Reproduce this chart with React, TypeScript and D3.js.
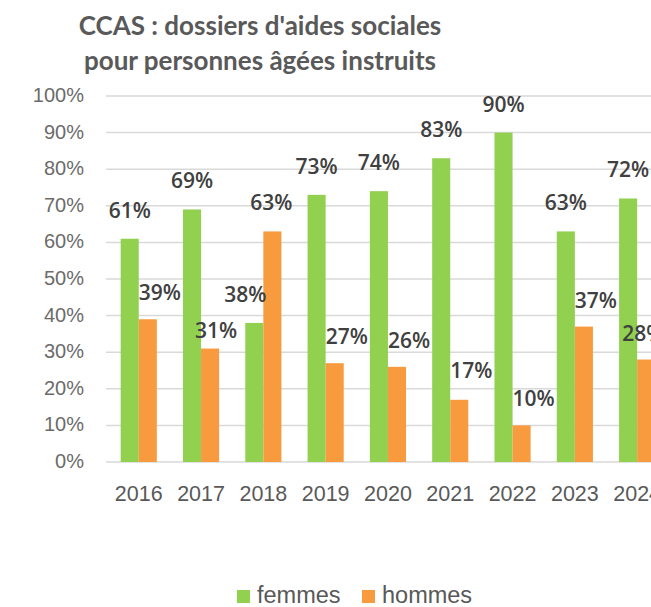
import React from "react";
import * as d3 from "d3";

// Share of social-aid files processed for elderly people, by sex
const years = ["2016", "2017", "2018", "2019", "2020", "2021", "2022", "2023", "2024"];
const femmes = [61, 69, 38, 73, 74, 83, 90, 63, 72];
const hommes = [39, 31, 63, 27, 26, 17, 10, 37, 28];
const yTicks = [0, 10, 20, 30, 40, 50, 60, 70, 80, 90, 100];
const seriesNames = ["femmes", "hommes"];
const seriesColors = ["#92D050", "#F79B3E"];

// Hand-placed label nudges (dx, dy in px) where labels would collide
const femmesNudge: [number, number][] = [[0, 0], [0, 0], [-9, 0], [0, 0], [0, 0], [0, 0], [0, 0], [0, 0], [0, 0]];
const hommesNudge: [number, number][] = [[0, 0], [-6, 8], [-13, -2], [0, 0], [0, 0], [0, -3], [0, 0], [0, 0], [-15, 0]];

const W = 651;
const H = 607;

export default function App() {
  const y = d3.scaleLinear().domain([0, 100]).range([462, 96]);
  const x = d3
    .scaleBand<string>()
    .domain(years)
    .range([107.6, 107.6 + 9 * 62.3])
    .paddingInner(0.42)
    .paddingOuter(0.21);
  const xs = d3.scaleBand<string>().domain(seriesNames).range([0, x.bandwidth()]);
  const gridLeft = 106;
  const labelFont = "'Liberation Sans', Arial, sans-serif";

  return (
    <svg
      width={W}
      height={H}
      style={{ position: "absolute", left: 0, top: 0, background: "#fff" }}
      fontFamily={labelFont}
    >
      <rect width={W} height={H} fill="#fff" />
      {/* Title */}
      <g fill="#595959" fontFamily="Lato, 'Open Sans', sans-serif" fontWeight={700} fontSize={26} textAnchor="middle">
        <text x={260} y={35}>CCAS : dossiers d'aides sociales</text>
        <text x={260} y={70}>pour personnes âgées instruits</text>
      </g>

      {/* Gridlines and y ticks */}
      {yTicks.map((t) => (
        <g key={t}>
          <line x1={gridLeft} x2={W} y1={y(t)} y2={y(t)} stroke="#D9D9D9" strokeWidth={1.5} />
          <text x={84} y={y(t)} dy="0.3em" textAnchor="end" fontSize={20} fill="#6b6b6b">
            {t}%
          </text>
        </g>
      ))}

      {/* Bars */}
      {years.map((yr, i) => {
        const x0 = x(yr)!;
        const vals = [femmes[i], hommes[i]];
        return (
          <g key={yr}>
            {vals.map((v, j) => (
              <rect
                key={j}
                x={x0 + xs(seriesNames[j])!}
                y={y(v)}
                width={xs.bandwidth()}
                height={y(0) - y(v)}
                fill={seriesColors[j]}
              />
            ))}
          </g>
        );
      })}

      {/* Data labels */}
      {years.map((yr, i) => {
        const x0 = x(yr)!;
        const fx = x0 + xs("femmes")! + xs.bandwidth() / 2;
        const hx = x0 + xs("hommes")!;
        return (
          <g key={"l" + yr} fontSize={21} fill="#404040" fontWeight={600} fontFamily="'Open Sans', sans-serif">
            <text
              x={fx + femmesNudge[i][0]}
              y={y(femmes[i]) - 21 + femmesNudge[i][1]}
              textAnchor="middle"
            >
              {femmes[i]}%
            </text>
            <text
              x={hx + hommesNudge[i][0]}
              y={y(hommes[i]) - 19 + hommesNudge[i][1]}
              textAnchor="start"
            >
              {hommes[i]}%
            </text>
          </g>
        );
      })}

      {/* Year labels */}
      {years.map((yr) => (
        <text
          key={"x" + yr}
          x={x(yr)! + x.bandwidth() / 2}
          y={501}
          textAnchor="middle"
          fontSize={21.5}
          fill="#595959"
        >
          {yr}
        </text>
      ))}

      {/* Legend */}
      {seriesNames.map((s, j) => {
        const lx = [237, 362][j];
        return (
          <g key={"lg" + s}>
            <rect x={lx} y={590} width={13} height={13} fill={seriesColors[j]} />
            <text x={lx + 20} y={603} fontSize={23.5} fill="#595959">
              {s}
            </text>
          </g>
        );
      })}
    </svg>
  );
}
